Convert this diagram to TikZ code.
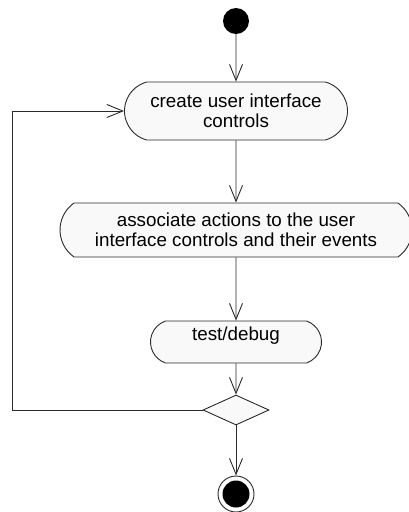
\documentclass[tikz,border=0pt]{standalone}
\usepackage{fontspec}
\setmainfont{Liberation Sans}
\usetikzlibrary{shapes.misc,shapes.geometric,arrows.meta}
\definecolor{linec}{HTML}{2A2A2A}
\definecolor{fillc}{HTML}{F9F9F9}
\tikzset{
  action/.style={rounded rectangle, draw=linec, fill=fillc, line width=0.9pt,
    inner sep=0pt, align=center, font=\fontsize{18.8}{20.5}\selectfont},
  flow/.style={draw=linec, line width=0.9pt, -{Straight Barb[length=16pt,width=13pt,line width=0.9pt]}},
  plain/.style={draw=linec, line width=0.9pt},
}
\begin{document}
\begin{tikzpicture}[x=1pt,y=-1pt]
\useasboundingbox (0,0) rectangle (408,512);
\node[circle, fill=black, minimum size=26pt, inner sep=0pt] (start) at (236,21) {};
\node[action, minimum width=223pt, minimum height=58pt, rounded rectangle arc length=150] (n1) at (236,111) {create user interface\\controls};
\node[action, minimum width=352pt, minimum height=54pt, rounded rectangle arc length=110] (n2) at (236,230) {associate actions to the user\\interface controls and their events};
\node[action, minimum width=171pt, minimum height=42pt, rounded rectangle arc length=142] (n3) at (236,342) {\raisebox{2pt}[0pt][0pt]{test/debug}};
\node[diamond, draw=linec, fill=fillc, line width=0.9pt, minimum width=66pt, minimum height=30pt, inner sep=0pt, aspect=2.2] (dec) at (236,410) {};
\node[circle, draw=linec, fill=white, line width=0.9pt, minimum size=36pt, inner sep=0pt] (endo) at (236,494) {};
\node[circle, fill=black, minimum size=27pt, inner sep=0pt] (endi) at (endo) {};
\coordinate (lb) at (12,410);
\coordinate (lt) at (12,111);
\draw[flow] (start) -- (n1);
\draw[flow] (n1) -- (n2);
\draw[flow] (n2) -- (n3);
\draw[flow] (n3) -- (dec);
\draw[flow] (dec) -- (endo);
\draw[flow] (dec.west) -- (lb) -- (lt) -- (n1.west);
\end{tikzpicture}
\end{document}
